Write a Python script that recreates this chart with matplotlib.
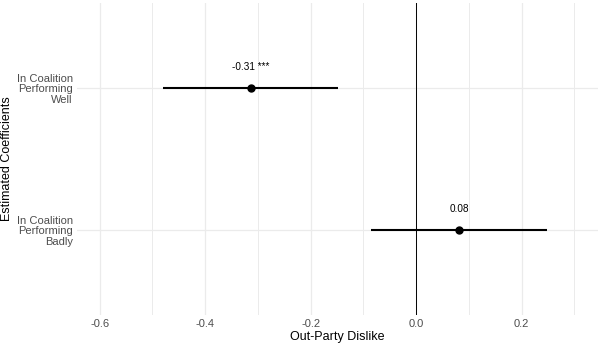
"""Coefficient plot: out-party dislike.
"""
import numpy as np
import matplotlib
matplotlib.use("Agg")
import matplotlib.pyplot as plt

plt.rcParams["font.family"] = ["Liberation Sans", "DejaVu Sans"]

#### Data.
terms = ["In Coalition\nPerforming\nBadly", "In Coalition\nPerforming\nWell"]
estimates = [0.082, -0.313]
ci_low = [-0.085, -0.480]
ci_high = [0.248, -0.148]
labels = ["0.08", "-0.31 ***"]
xticks = [-0.6, -0.4, -0.2, 0.0, 0.2]
xticklabels = ["-0.6", "-0.4", "-0.2", "0.0", "0.2"]
xminor = [-0.5, -0.3, -0.1, 0.1, 0.3]

#### Parameters.
GRID_COLOR = "#EBEBEB"
TICK_COLOR = "#4D4D4D"

fig = plt.figure(figsize=(6, 3.47), dpi=100)
ax = fig.add_axes([77 / 600, 32 / 347, 521 / 600, 312 / 347])

ypos = np.arange(1, len(terms) + 1)

# grid
for x in xticks:
    ax.axvline(x, color=GRID_COLOR, lw=0.9, zorder=0)
for x in xminor:
    ax.axvline(x, color=GRID_COLOR, lw=0.7, zorder=0)
for y in ypos:
    ax.axhline(y, color=GRID_COLOR, lw=0.9, zorder=0)

# zero line
ax.axvline(0, color="black", lw=0.7, zorder=1)

# intervals and points
ax.hlines(ypos, ci_low, ci_high, color="black", lw=1.5, zorder=2)
ax.plot(estimates, ypos, "o", color="black", ms=5, zorder=3)

for x, y, lab in zip(estimates, ypos, labels):
    ax.annotate(lab, (x, y), xytext=(0, 15), textcoords="offset points",
        ha="center", va="center", fontsize=7.2, color="black")

# aesthetics
ax.set_xlim(-0.643, 0.345)
ax.set_ylim(0.4, 2.6)
ax.set_xticks(xticks)
ax.set_xticklabels(xticklabels)
ax.set_yticks(ypos)
ax.set_yticklabels(terms, linespacing=1.05)
ax.tick_params(axis="both", length=0, labelsize=8, labelcolor=TICK_COLOR)
ax.tick_params(axis="x", pad=3)
ax.tick_params(axis="y", pad=3)
for s in ax.spines.values():
    s.set_visible(False)
ax.set_xlabel("Out-Party Dislike", fontsize=9, labelpad=1)
ax.set_ylabel("Estimated Coefficients", fontsize=9, labelpad=3)

fig.savefig("out.png", dpi=100)
plt.close()
